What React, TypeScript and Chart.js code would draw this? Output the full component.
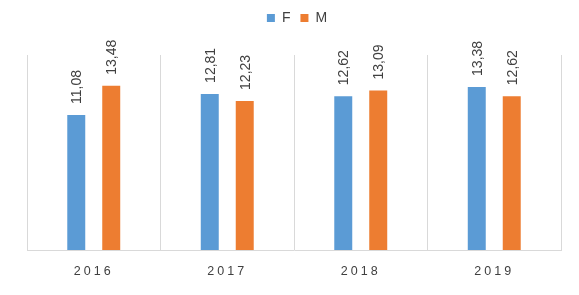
import React, { useEffect, useRef } from "react";
import { Chart, registerables } from "chart.js";

Chart.register(...registerables);

const categories = ["2016", "2017", "2018", "2019"];
const seriesF = [11.08, 12.81, 12.62, 13.38];
const seriesM = [13.48, 12.23, 13.09, 12.62];
const seriesNames = ["F", "M"];

const BLUE = "#5B9BD5";
const ORANGE = "#ED7D31";
const TEXT = "#404040";
const FONT = "'Liberation Sans', Arial, sans-serif";

const fmt = (v: number) => v.toFixed(2).replace(".", ",");

const tweakPlugin = {
  id: "tweaks",
  beforeInit(chart: any) {
    const lg = chart.legend;
    if (lg && !lg._fitWrapped) {
      const orig = lg.fit;
      lg.fit = function () {
        orig.call(this);
        this.height = 47;
      };
      const origDraw = lg.draw;
      lg.draw = function (...args: any[]) {
        const ctx = this.ctx;
        ctx.save();
        ctx.translate(3, -7);
        origDraw.apply(this, args);
        ctx.restore();
      };
      lg._fitWrapped = true;
    }
  },
  beforeDraw(chart: any) {
    const xs = chart.scales.x;
    if (xs && !xs._lsWrapped) {
      const orig = xs.drawLabels;
      xs.drawLabels = function (area: any) {
        const ctx = this.ctx;
        ctx.save();
        (ctx as any).letterSpacing = "3px";
        orig.call(this, area);
        ctx.restore();
      };
      xs._lsWrapped = true;
    }
  },
  afterDatasetsDraw(chart: any) {
    const ctx = chart.ctx;
    ctx.save();
    ctx.font = `14px ${FONT}`;
    ctx.fillStyle = TEXT;
    ctx.textAlign = "left";
    ctx.textBaseline = "middle";
    chart.data.datasets.forEach((ds: any, i: number) => {
      const meta = chart.getDatasetMeta(i);
      meta.data.forEach((bar: any, j: number) => {
        ctx.save();
        ctx.translate(bar.x + 1, bar.y - 11);
        ctx.rotate(-Math.PI / 2);
        ctx.fillText(fmt(ds.data[j]), 0, 0);
        ctx.restore();
      });
    });
    ctx.restore();
  },
};

export default function App() {
  const ref = useRef<HTMLCanvasElement>(null);
  useEffect(() => {
    if (!ref.current) return;
    const chart = new Chart(ref.current, {
      type: "bar",
      data: {
        labels: categories,
        datasets: [
          { label: seriesNames[0], data: seriesF, backgroundColor: BLUE, categoryPercentage: 0.524, barPercentage: 0.514 },
          { label: seriesNames[1], data: seriesM, backgroundColor: ORANGE, categoryPercentage: 0.524, barPercentage: 0.514 },
        ],
      },
      options: {
        animation: false,
        responsive: true,
        maintainAspectRatio: false,
        layout: { padding: { left: 19, right: 10, top: 0, bottom: 0 } },
        plugins: {
          legend: {
            position: "top",
            labels: {
              boxWidth: 8,
              boxHeight: 8,
              padding: 10,
              color: TEXT,
              font: { family: FONT, size: 14 },
            },
          },
          tooltip: { enabled: false },
        },
        scales: {
          x: {
            grid: { display: true, color: "#D9D9D9", drawTicks: false, offset: true },
            border: { display: true, color: "#D9D9D9" },
            ticks: { color: TEXT, font: { family: FONT, size: 12.5 }, padding: 14 },
            afterFit(scale: any) {
              scale.height = 37;
            },
          },
          y: {
            display: false,
            min: 0,
            max: 16,
          },
        },
      },
      plugins: [tweakPlugin],
    });
    return () => chart.destroy();
  }, []);
  return (
    <div style={{ width: 563, height: 279, position: "relative" }}>
      <canvas ref={ref} />
    </div>
  );
}
